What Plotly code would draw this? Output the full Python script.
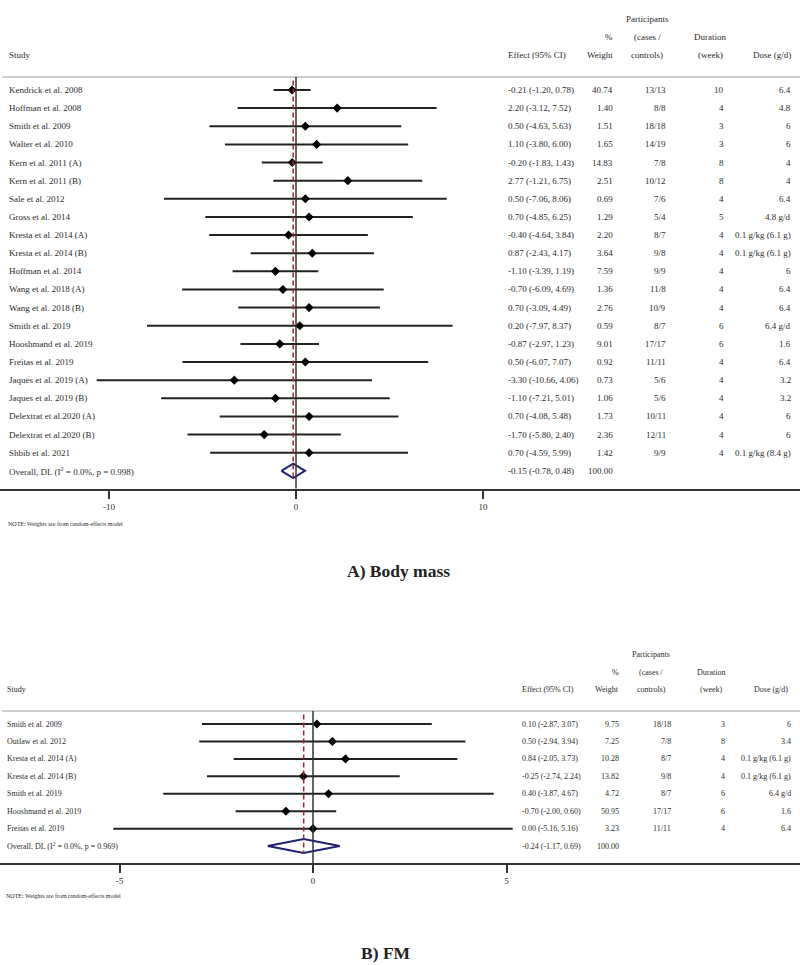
import plotly.graph_objects as go

# ---- A) Body mass ----
bm_study = ["Kendrick et al. 2008", "Hoffman et al. 2008", "Smith et al. 2009", "Walter et al. 2010",
            "Kern et al. 2011 (A)", "Kern et al. 2011 (B)", "Sale et al. 2012", "Gross et al. 2014",
            "Kresta et al. 2014 (A)", "Kresta et al. 2014 (B)", "Hoffman et al. 2014", "Wang et al. 2018 (A)",
            "Wang et al. 2018 (B)", "Smith et al. 2019", "Hooshmand et al. 2019", "Freitas et al. 2019",
            "Jaques et al. 2019 (A)", "Jaques et al. 2019 (B)", "Delextrat et al.2020 (A)",
            "Delextrat et al.2020 (B)", "Shbib et al. 2021"]
bm_est = [-0.21, 2.20, 0.50, 1.10, -0.20, 2.77, 0.50, 0.70, -0.40, 0.87, -1.10, -0.70,
          0.70, 0.20, -0.87, 0.50, -3.30, -1.10, 0.70, -1.70, 0.70]
bm_lo = [-1.20, -3.12, -4.63, -3.80, -1.83, -1.21, -7.06, -4.85, -4.64, -2.43, -3.39, -6.09,
         -3.09, -7.97, -2.97, -6.07, -10.66, -7.21, -4.08, -5.80, -4.59]
bm_hi = [0.78, 7.52, 5.63, 6.00, 1.43, 6.75, 8.06, 6.25, 3.84, 4.17, 1.19, 4.69,
         4.49, 8.37, 1.23, 7.07, 4.06, 5.01, 5.48, 2.40, 5.99]
bm_weight = [40.74, 1.40, 1.51, 1.65, 14.83, 2.51, 0.69, 1.29, 2.20, 3.64, 7.59, 1.36,
             2.76, 0.59, 9.01, 0.92, 0.73, 1.06, 1.73, 2.36, 1.42]
bm_part = ["13/13", "8/8", "18/18", "14/19", "7/8", "10/12", "7/6", "5/4", "8/7", "9/8", "9/9", "11/8",
           "10/9", "8/7", "17/17", "11/11", "5/6", "5/6", "10/11", "12/11", "9/9"]
bm_dur = [10, 4, 3, 3, 8, 8, 4, 5, 4, 4, 4, 4, 4, 6, 6, 4, 4, 4, 4, 4, 4]
bm_dose = ["6.4", "4.8", "6", "6", "4", "4", "6.4", "4.8 g/d", "0.1 g/kg (6.1 g)", "0.1 g/kg (6.1 g)",
           "6", "6.4", "6.4", "6.4 g/d", "1.6", "6.4", "3.2", "3.2", "6", "6", "0.1 g/kg (8.4 g)"]
bm_overall = (-0.15, -0.78, 0.48)
bm_overall_label = "Overall, DL (I<sup>2</sup> = 0.0%, p = 0.998)"
bm_ticks = [-10, 0, 10]

# ---- B) FM ----
fm_study = ["Smith et al. 2009", "Outlaw et al. 2012", "Kresta et al. 2014 (A)", "Kresta et al. 2014 (B)",
            "Smith et al. 2019", "Hooshmand et al. 2019", "Freitas et al. 2019"]
fm_est = [0.10, 0.50, 0.84, -0.25, 0.40, -0.70, 0.00]
fm_lo = [-2.87, -2.94, -2.05, -2.74, -3.87, -2.00, -5.16]
fm_hi = [3.07, 3.94, 3.73, 2.24, 4.67, 0.60, 5.16]
fm_weight = [9.75, 7.25, 10.28, 13.82, 4.72, 50.95, 3.23]
fm_part = ["18/18", "7/8", "8/7", "9/8", "8/7", "17/17", "11/11"]
fm_dur = [3, 8, 4, 4, 6, 6, 4]
fm_dose = ["6", "3.4", "0.1 g/kg (6.1 g)", "0.1 g/kg (6.1 g)", "6.4 g/d", "1.6", "6.4"]
fm_overall = (-0.24, -1.17, 0.69)
fm_overall_label = "Overall, DL (I<sup>2</sup> = 0.0%, p = 0.969)"
fm_ticks = [-5, 0, 5]

W, H = 800, 965
FONT = "Liberation Serif"
TXT = "#2b2b2b"


def pxx(p):
    return p / W


def pxy(p):
    return 1 - p / H


fig = go.Figure()
annotations = []
shapes = []


def panel(study, est, lo, hi, weight, part, dur, dose, overall, overall_label,
          xa, ya, cols, hdr_cols, hdr_rows, fs, note_y, title, title_x, title_y):
    n = len(study)
    rows = list(range(n))
    ov_row = n
    # CI lines + point estimates
    fig.add_trace(go.Scatter(
        x=est, y=rows, mode="markers", xaxis=xa, yaxis=ya,
        marker=dict(symbol="diamond", size=7, color="black"),
        error_x=dict(type="data", symmetric=False,
                     array=[h - e for e, h in zip(est, hi)],
                     arrayminus=[e - l for e, l in zip(est, lo)],
                     width=0, thickness=2, color="#222222"),
        showlegend=False, hoverinfo="skip"))
    # overall diamond
    e, l, h = overall
    fig.add_trace(go.Scatter(
        x=[l, e, h, e, l], y=[ov_row, ov_row - 0.4, ov_row, ov_row + 0.4, ov_row],
        mode="lines", xaxis=xa, yaxis=ya, line=dict(color="#1f2270", width=2),
        showlegend=False, hoverinfo="skip"))

    yref = ya
    xref = xa
    x_eff, x_w, x_p, x_d, x_dose, x_study = cols

    def txt(x, y, s, anchor, size=fs, ref=yref):
        annotations.append(dict(x=pxx(x), y=y, xref="paper", yref=ref, text=s, showarrow=False,
                                xanchor=anchor, yanchor="middle",
                                font=dict(family=FONT, size=size, color=TXT)))

    for i in rows:
        txt(x_study, i, study[i], "left")
        txt(x_eff, i, f"{est[i]:.2f} ({lo[i]:.2f}, {hi[i]:.2f})", "left")
        txt(x_w, i, f"{weight[i]:.2f}", "right")
        txt(x_p, i, part[i], "right")
        txt(x_d, i, str(dur[i]), "right")
        txt(x_dose, i, dose[i], "right")
    txt(x_study, ov_row, overall_label, "left")
    txt(x_eff, ov_row, f"{e:.2f} ({l:.2f}, {h:.2f})", "left")
    txt(x_w, ov_row, "100.00", "right")

    # header
    r1, r2, r3, rline = hdr_rows
    hp, hw, hd, hdose = hdr_cols
    txt(hp, r1, "Participants", "center")
    txt(hw, r2, "%", "right")
    txt(hp, r2, "(cases /", "center")
    txt(hd, r2, "Duration", "center")
    txt(x_study, r3, "Study", "left")
    txt(x_eff, r3, "Effect (95% CI)", "left")
    txt(hw, r3, "Weight", "right")
    txt(hp, r3, "controls)", "center")
    txt(hd, r3, "(week)", "center")
    txt(hdose, r3, "Dose (g/d)", "right")

    shapes.append(dict(type="line", xref="paper", yref=yref, x0=pxx(2), x1=1, y0=rline, y1=rline,
                       line=dict(color="#cccccc", width=2)))
    shapes.append(dict(type="line", xref=xref, yref=yref, x0=0, x1=0, y0=rline, y1=ov_row + 0.97,
                       line=dict(color="#333333", width=1.5)))
    shapes.append(dict(type="line", xref=xref, yref=yref, x0=e, x1=e, y0=rline + 0.2, y1=ov_row + 0.42,
                       line=dict(color="#a3262a", width=1.5, dash="5px,3px")))

    annotations.append(dict(x=pxx(x_study - 1), y=pxy(note_y), xref="paper", yref="paper",
                            text="NOTE: Weights are from random-effects model", showarrow=False,
                            xanchor="left", yanchor="middle",
                            font=dict(family=FONT, size=6, color=TXT)))
    annotations.append(dict(x=pxx(title_x), y=pxy(title_y), xref="paper", yref="paper",
                            text=f"<b>{title}</b>", showarrow=False, xanchor="center", yanchor="middle",
                            font=dict(family=FONT, size=17.5, color="#222222")))


panel(bm_study, bm_est, bm_lo, bm_hi, bm_weight, bm_part, bm_dur, bm_dose, bm_overall, bm_overall_label,
      "x", "y", (506, 615, 668, 726, 793, 7), (647, 615, 710, 793), (-3.91, -2.92, -1.93, -0.72),
      9, 524, "A) Body mass", 398, 571)
panel(fm_study, fm_est, fm_lo, fm_hi, fm_weight, fm_part, fm_dur, fm_dose, fm_overall, fm_overall_label,
      "x2", "y2", (520, 621, 673, 727, 793, 5), (651, 621, 711, 790), (-3.96, -2.93, -1.95, -0.75),
      8, 896, "B) FM", 386, 953)

axis_common = dict(showgrid=False, zeroline=False, showline=True, linecolor="#333333", linewidth=1.5,
                   ticks="outside", ticklen=8, tickwidth=1.5, tickcolor="#333333",
                   tickfont=dict(family=FONT, size=9, color=TXT))
yaxis_common = dict(showgrid=False, zeroline=False, showticklabels=False, showline=False, ticks="")

fig.update_layout(
    width=W, height=H, margin=dict(l=0, r=0, t=0, b=0),
    paper_bgcolor="white", plot_bgcolor="white",
    xaxis=dict(domain=[0, 1], range=[-296 / 18.7, 504 / 18.7], tickvals=bm_ticks,
               ticktext=[str(t) for t in bm_ticks], anchor="y", **axis_common),
    yaxis=dict(domain=[pxy(489), 1], range=[22.0, -4.96], anchor="x", **yaxis_common),
    xaxis2=dict(domain=[0, 1], range=[-313 / 38.7, 487 / 38.7], tickvals=fm_ticks,
                ticktext=[str(t) for t in fm_ticks], anchor="y2", **axis_common),
    yaxis2=dict(domain=[pxy(863), pxy(630)], range=[7.97, -5.39], anchor="x2", **yaxis_common),
    annotations=annotations, shapes=shapes,
)

fig.write_html("out.html", config={"displayModeBar": False},
               post_script="document.body.style.margin='0';document.body.style.overflow='hidden';")
